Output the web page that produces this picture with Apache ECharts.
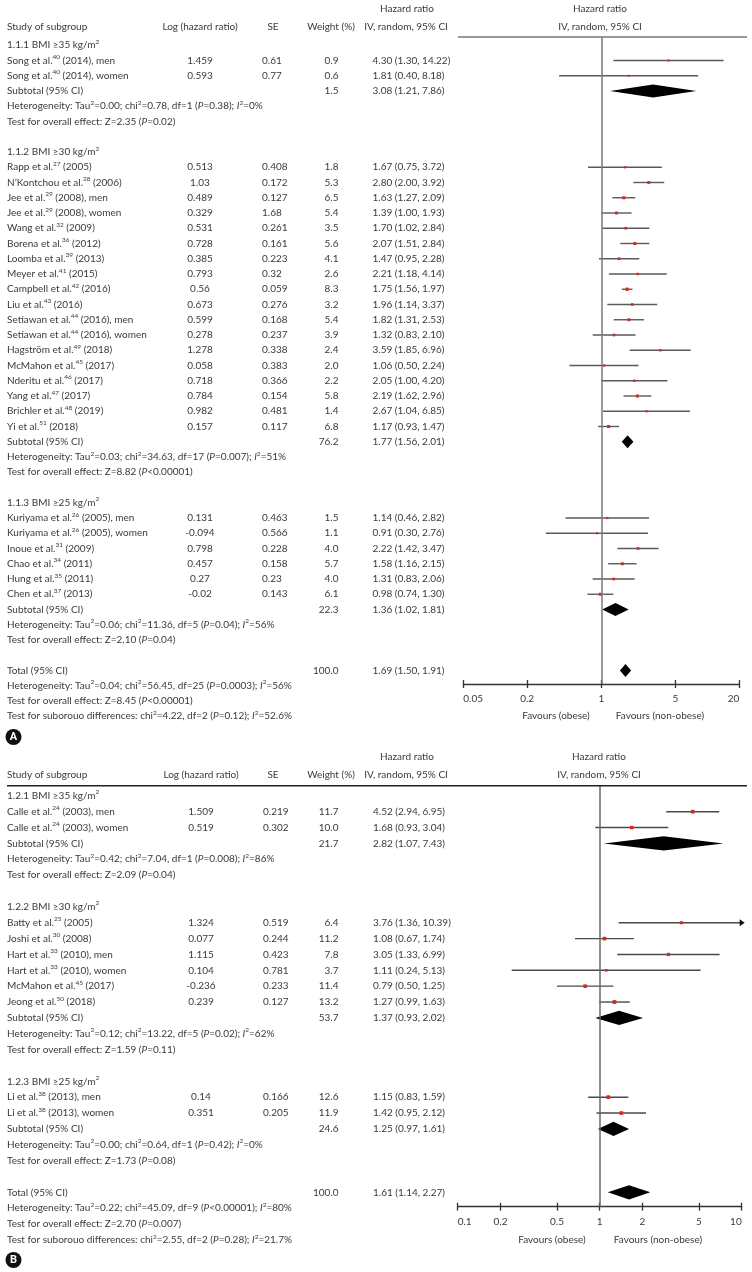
<!DOCTYPE html>
<html><head><meta charset="utf-8">
<script src="https://cdn.jsdelivr.net/npm/echarts@6/dist/echarts.min.js"></script>
<style>html,body{margin:0;padding:0;background:#fff}#c{width:752px;height:1272px}</style>
</head><body><div id="c"></div><script>
// ================= PANEL A DATA =================
const groupsA = ['1.1.1 BMI ≥35 kg/m', '1.1.2 BMI ≥30 kg/m', '1.1.3 BMI ≥25 kg/m'];
const groupSizesA = [2, 18, 6];
const studyA = ['Song et al.', 'Song et al.', 'Rapp et al.', 'N’Kontchou et al.', 'Jee et al.', 'Jee et al.',
  'Wang et al.', 'Borena et al.', 'Loomba et al.', 'Meyer et al.', 'Campbell et al.', 'Liu et al.',
  'Setiawan et al.', 'Setiawan et al.', 'Hagström et al.', 'McMahon et al.', 'Nderitu et al.', 'Yang et al.',
  'Brichler et al.', 'Yi et al.', 'Kuriyama et al.', 'Kuriyama et al.', 'Inoue et al.', 'Chao et al.',
  'Hung et al.', 'Chen et al.'];
const refA = [40, 40, 27, 28, 29, 29, 32, 36, 39, 41, 42, 43, 44, 44, 49, 45, 46, 47, 48, 51, 26, 26, 31, 34, 35, 37];
const detailA = ['(2014), men', '(2014), women', '(2005)', '(2006)', '(2008), men', '(2008), women',
  '(2009)', '(2012)', '(2013)', '(2015)', '(2016)', '(2016)', '(2016), men', '(2016), women', '(2018)',
  '(2017)', '(2017)', '(2017)', '(2019)', '(2018)', '(2005), men', '(2005), women', '(2009)', '(2011)',
  '(2011)', '(2013)'];
const logHrA = [1.459, 0.593, 0.513, 1.03, 0.489, 0.329, 0.531, 0.728, 0.385, 0.793, 0.56, 0.673, 0.599, 0.278,
  1.278, 0.058, 0.718, 0.784, 0.982, 0.157, 0.131, -0.094, 0.798, 0.457, 0.27, -0.02];
const seA = [0.61, 0.77, 0.408, 0.172, 0.127, 1.68, 0.261, 0.161, 0.223, 0.32, 0.059, 0.276, 0.168, 0.237,
  0.338, 0.383, 0.366, 0.154, 0.481, 0.117, 0.463, 0.566, 0.228, 0.158, 0.23, 0.143];
const weightA = [0.9, 0.6, 1.8, 5.3, 6.5, 5.4, 3.5, 5.6, 4.1, 2.6, 8.3, 3.2, 5.4, 3.9, 2.4, 2.0, 2.2, 5.8, 1.4, 6.8,
  1.5, 1.1, 4.0, 5.7, 4.0, 6.1];
const hrA = [4.30, 1.81, 1.67, 2.80, 1.63, 1.39, 1.70, 2.07, 1.47, 2.21, 1.75, 1.96, 1.82, 1.32, 3.59, 1.06, 2.05,
  2.19, 2.67, 1.17, 1.14, 0.91, 2.22, 1.58, 1.31, 0.98];
const loA = [1.30, 0.40, 0.75, 2.00, 1.27, 1.00, 1.02, 1.51, 0.95, 1.18, 1.56, 1.14, 1.31, 0.83, 1.85, 0.50, 1.00,
  1.62, 1.04, 0.93, 0.46, 0.30, 1.42, 1.16, 0.83, 0.74];
const hiA = [14.22, 8.18, 3.72, 3.92, 2.09, 1.93, 2.84, 2.84, 2.28, 4.14, 1.97, 3.37, 2.53, 2.10, 6.96, 2.24, 4.20,
  2.96, 6.85, 1.47, 2.82, 2.76, 3.47, 2.15, 2.06, 1.30];
const subWeightA = [1.5, 76.2, 22.3];
const subHrA = [3.08, 1.77, 1.36];
const subLoA = [1.21, 1.56, 1.02];
const subHiA = [7.86, 2.01, 1.81];
const tauA = ['0.00', '0.03', '0.06'];
const chiA = ['0.78', '34.63', '11.36'];
const dfA = [1, 17, 5];
const pHetA = ['=0.38', '=0.007', '=0.04'];
const i2A = ['0%', '51%', '56%'];
const zA = ['2.35', '8.82', '2.10'];
const pZA = ['=0.02', '<0.00001', '=0.04'];
const totalA = [100.0, 1.69, 1.50, 1.91];            // weight, HR, lower, upper
const totalHetA = ['0.04', '56.45', 25, '=0.0003', '56%'];
const totalZA = ['8.45', '<0.00001'];
const diffA = ['4.22', 2, '=0.12', '52.6%'];
const ticksA = [0.05, 0.2, 1, 5, 20];

// ================= PANEL B DATA =================
const groupsB = ['1.2.1 BMI ≥35 kg/m', '1.2.2 BMI ≥30 kg/m', '1.2.3 BMI ≥25 kg/m'];
const groupSizesB = [2, 6, 2];
const studyB = ['Calle et al.', 'Calle et al.', 'Batty et al.', 'Joshi et al.', 'Hart et al.', 'Hart et al.',
  'McMahon et al.', 'Jeong et al.', 'Li et al.', 'Li et al.'];
const refB = [24, 24, 25, 30, 33, 33, 45, 50, 38, 38];
const detailB = ['(2003), men', '(2003), women', '(2005)', '(2008)', '(2010), men', '(2010), women', '(2017)',
  '(2018)', '(2013), men', '(2013), women'];
const logHrB = [1.509, 0.519, 1.324, 0.077, 1.115, 0.104, -0.236, 0.239, 0.14, 0.351];
const seB = [0.219, 0.302, 0.519, 0.244, 0.423, 0.781, 0.233, 0.127, 0.166, 0.205];
const weightB = [11.7, 10.0, 6.4, 11.2, 7.8, 3.7, 11.4, 13.2, 12.6, 11.9];
const hrB = [4.52, 1.68, 3.76, 1.08, 3.05, 1.11, 0.79, 1.27, 1.15, 1.42];
const loB = [2.94, 0.93, 1.36, 0.67, 1.33, 0.24, 0.50, 0.99, 0.83, 0.95];
const hiB = [6.95, 3.04, 10.39, 1.74, 6.99, 5.13, 1.25, 1.63, 1.59, 2.12];
const subWeightB = [21.7, 53.7, 24.6];
const subHrB = [2.82, 1.37, 1.25];
const subLoB = [1.07, 0.93, 0.97];
const subHiB = [7.43, 2.02, 1.61];
const tauB = ['0.42', '0.12', '0.00'];
const chiB = ['7.04', '13.22', '0.64'];
const dfB = [1, 5, 1];
const pHetB = ['=0.008', '=0.02', '=0.42'];
const i2B = ['86%', '62%', '0%'];
const zB = ['2.09', '1.59', '1.73'];
const pZB = ['=0.04', '=0.11', '=0.08'];
const totalB = [100.0, 1.61, 1.14, 2.27];
const totalHetB = ['0.22', '45.09', 9, '<0.00001', '80%'];
const totalZB = ['2.70', '=0.007'];
const diffB = ['2.55', 2, '=0.28', '21.7%'];
const ticksB = [0.1, 0.2, 0.5, 1, 2, 5, 10];

// ================= LAYOUT / STYLE =================
const FONT = 'Lato, "Open Sans", sans-serif';
const TXT = '#3a3a3a';
const FS = 10;
const L = v => Math.log10(v);
const PANELS = [
  { grid: {left: 463.3, top: 37, width: 276, height: 647}, row0: 60.5, step: 15.25,
    cols: {name: 7, log: 200, se: 262, w: 338.5, ci: 372.5},
    head1: 9, head2: 27, headLine: {x1: 458, x2: 747, y: 37, color: '#777', w: 1.6},
    favY: 716, favL: 556, favR: 660, badge: {x: 13.5, y: 737, t: 'A'}, hx: 600,
    lineColor: '#5a5a5a', vColor: '#7a7a7a', dHalf: 6.5 },
  { grid: {left: 457.7, top: 785.7, width: 284, height: 421}, row0: 811.7, step: 15.86,
    cols: {name: 7, log: 201, se: 263, w: 338.5, ci: 373},
    head1: 757, head2: 775, headLine: {x1: 7, x2: 747, y: 785.7, color: '#222', w: 1.4},
    favY: 1240, favL: 552, favR: 658, badge: {x: 13.5, y: 1260, t: 'B'}, hx: 599,
    lineColor: '#4a4a4a', vColor: '#6a6a6a', dHalf: 7.2 }
];

function layoutRows(sizes) {
  const rows = []; let r = -1, k = 0;
  sizes.forEach((n, g) => {
    rows.push({r: r++, kind: 'group', g});
    for (let j = 0; j < n; j++) rows.push({r: r++, kind: 'study', i: k++});
    rows.push({r: r++, kind: 'sub', g});
    rows.push({r: r++, kind: 'het', g});
    rows.push({r: r++, kind: 'z', g});
    r++;
  });
  rows.push({r: r++, kind: 'total'});
  rows.push({r: r++, kind: 'thet'});
  rows.push({r: r++, kind: 'tz'});
  rows.push({r: r++, kind: 'diff'});
  return rows;
}

const dataSets = [
  {groups: groupsA, sizes: groupSizesA, study: studyA, ref: refA, detail: detailA, logHr: logHrA, se: seA,
   weight: weightA, hr: hrA, lo: loA, hi: hiA, subW: subWeightA, subHr: subHrA, subLo: subLoA, subHi: subHiA,
   tau: tauA, chi: chiA, df: dfA, pHet: pHetA, i2: i2A, z: zA, pZ: pZA, total: totalA, tHet: totalHetA,
   tZ: totalZA, diff: diffA, ticks: ticksA},
  {groups: groupsB, sizes: groupSizesB, study: studyB, ref: refB, detail: detailB, logHr: logHrB, se: seB,
   weight: weightB, hr: hrB, lo: loB, hi: hiB, subW: subWeightB, subHr: subHrB, subLo: subLoB, subHi: subHiB,
   tau: tauB, chi: chiB, df: dfB, pHet: pHetB, i2: i2B, z: zB, pZ: pZB, total: totalB, tHet: totalHetB,
   tZ: totalZB, diff: diffB, ticks: ticksB}
];
dataSets.forEach(d => { d.rows = layoutRows(d.sizes); });

const ciStr = (h, l, u) => `${h.toFixed(2)} (${l.toFixed(2)}, ${u.toFixed(2)})`;
const hetStr = (tau, chi, df, p, i2) =>
  `Heterogeneity: Tau{s|2}=${tau}; chi{s|2}=${chi}, df=${df} ({i|P}${p}); {i|I}{s|2}=${i2}`;
const zStr = (z, p) => `Test for overall effect: Z=${z} ({i|P}${p})`;
const diffStr = (chi, df, p, i2) =>
  `Test for suborouo differences: chi{s|2}=${chi}, df=${df} ({i|P}${p}); {i|I}{s|2}=${i2}`;

const RICH = {
  s: {fontFamily: FONT, fontSize: 6.5, fill: TXT, verticalAlign: 'top', lineHeight: 9},
  i: {fontFamily: FONT, fontSize: FS, fill: TXT, fontStyle: 'italic', lineHeight: 14}
};
function txt(text, x, y, align, extra) {
  return {type: 'text', x, y, silent: true, z: 20,
    style: Object.assign({text: String(text), textAlign: align || 'left', textVerticalAlign: 'middle',
      verticalAlign: 'middle', fontFamily: FONT, fontSize: FS, fill: TXT, lineHeight: 14, rich: RICH}, extra || {})};
}

function fmtTick(ticks, v) {
  const t = ticks.find(t => Math.abs(L(t) - v) < 1e-9);
  return t === undefined ? '' : String(t);
}
function mainAxis(gi, ticks) {
  const cv = ticks.map(L);
  return {type: 'value', gridIndex: gi, position: 'bottom', min: cv[0], max: cv[cv.length - 1],
    splitLine: {show: false},
    axisLine: {show: true, onZero: false, lineStyle: {color: '#333', width: 1.3}},
    axisTick: {show: true, customValues: cv, length: 4, lineStyle: {color: '#333', width: 1.3}},
    axisLabel: {show: true, customValues: cv, formatter: v => fmtTick(ticks, v), margin: 10,
      color: TXT, fontFamily: FONT, fontSize: FS, alignMinLabel: 'left', alignMaxLabel: 'right',
      showMinLabel: true, showMaxLabel: true}};
}
function innerAxis(gi, ticks) {
  const cv = ticks.map(L);
  return {type: 'value', gridIndex: gi, position: 'bottom', min: cv[0], max: cv[cv.length - 1],
    splitLine: {show: false},
    axisLine: {show: false, onZero: false},
    axisTick: {show: true, inside: true, customValues: cv, length: 4, lineStyle: {color: '#333', width: 1.3}},
    axisLabel: {show: false}};
}

function ciRenderFactory(P) {
  return function (params, api) {
    const lo = api.value(0), hi = api.value(1), est = api.value(2), r = api.value(3), w = api.value(4);
    const p1 = api.coord([lo, r]), p2 = api.coord([hi, r]), pe = api.coord([est, r]);
    const cs = params.coordSys;
    const right = cs.x + cs.width;
    let x2 = p2[0], clipped = false;
    if (x2 > right) { x2 = right; clipped = true; }
    const y = p1[1];
    const ch = [{type: 'line', shape: {x1: p1[0], y1: y, x2: x2, y2: y},
      style: {stroke: P.lineColor, lineWidth: 1.4}}];
    if (clipped) ch.push({type: 'polygon', shape: {points: [[right - 2, y - 3.5], [right + 3, y], [right - 2, y + 3.5]]},
      style: {fill: '#111'}});
    const s = 1.4 + 0.65 * Math.sqrt(w);
    ch.push({type: 'rect', shape: {x: pe[0] - s / 2, y: y - s / 2, width: s, height: s}, style: {fill: '#d8281c'}});
    return {type: 'group', children: ch};
  };
}
function diamondRenderFactory(P) {
  return function (params, api) {
    const lo = api.value(0), hi = api.value(1), est = api.value(2), r = api.value(3);
    const pl = api.coord([lo, r]), ph = api.coord([hi, r]), pe = api.coord([est, r]);
    const y = pl[1], h = P.dHalf;
    return {type: 'polygon', shape: {points: [[pl[0], y], [pe[0], y - h], [ph[0], y], [pe[0], y + h]]},
      style: {fill: '#000'}};
  };
}

const grids = [], xAxes = [], yAxes = [], series = [];
dataSets.forEach((d, gi) => {
  const P = PANELS[gi];
  grids.push(Object.assign({}, P.grid));
  xAxes.push(mainAxis(gi, d.ticks), innerAxis(gi, d.ticks));
  yAxes.push({type: 'value', gridIndex: gi, inverse: true, show: false,
    min: (P.grid.top - P.row0) / P.step, max: (P.grid.top + P.grid.height - P.row0) / P.step});
  const ciItems = [], dItems = [];
  d.rows.forEach(row => {
    if (row.kind === 'study') {
      const i = row.i;
      ciItems.push([L(d.lo[i]), L(d.hi[i]), L(d.hr[i]), row.r, d.weight[i]]);
    } else if (row.kind === 'sub') {
      const g = row.g;
      dItems.push([L(d.subLo[g]), L(d.subHi[g]), L(d.subHr[g]), row.r]);
    } else if (row.kind === 'total') {
      dItems.push([L(d.total[2]), L(d.total[3]), L(d.total[1]), row.r]);
    }
  });
  series.push({type: 'custom', name: 'ci' + gi, xAxisIndex: gi * 2, yAxisIndex: gi, clip: false, z: 3,
    data: ciItems, encode: {x: [0, 1, 2], y: 3}, renderItem: ciRenderFactory(P),
    markLine: {silent: true, symbol: ['none', 'none'], label: {show: false}, animation: false,
      lineStyle: {color: P.vColor, width: 1.5, type: 'solid'}, data: [{xAxis: 0}]}});
  series.push({type: 'custom', name: 'dia' + gi, xAxisIndex: gi * 2, yAxisIndex: gi, clip: false, z: 4,
    data: dItems, encode: {x: [0, 1, 2], y: 3}, renderItem: diamondRenderFactory(P)});
});

const chart = echarts.init(document.getElementById('c'), null, {renderer: 'canvas', width: 752, height: 1272});
chart.setOption({animation: false, backgroundColor: '#fff', grid: grids, xAxis: xAxes, yAxis: yAxes, series: series});

// ---------- table text ----------
const gfx = [];
dataSets.forEach((d, gi) => {
  const P = PANELS[gi], C = P.cols;
  const yOf = r => chart.convertToPixel({yAxisIndex: gi}, r);
  // headers
  gfx.push(txt('Hazard ratio', 407, P.head1, 'center'));
  gfx.push(txt('Study of subgroup', C.name, P.head2));
  gfx.push(txt('Log (hazard ratio)', C.log, P.head2, 'center'));
  gfx.push(txt('SE', 273, P.head2, 'center'));
  gfx.push(txt('Weight (%)', 331, P.head2, 'center'));
  gfx.push(txt('IV, random, 95% CI', 406, P.head2, 'center'));
  gfx.push(txt('Hazard ratio', P.hx, P.head1, 'center'));
  gfx.push(txt('IV, random, 95% CI', P.hx, P.head2, 'center'));
  const hl = P.headLine;
  gfx.push({type: 'line', silent: true, z: 20, shape: {x1: hl.x1, y1: hl.y, x2: hl.x2, y2: hl.y},
    style: {stroke: hl.color, lineWidth: hl.w}});
  d.rows.forEach(row => {
    const y = yOf(row.r);
    switch (row.kind) {
      case 'group': gfx.push(txt(d.groups[row.g] + '{s|2}', C.name, y)); break;
      case 'study': {
        const i = row.i;
        gfx.push(txt(`${d.study[i]}{s|${d.ref[i]}} ${d.detail[i]}`, C.name, y));
        gfx.push(txt(String(d.logHr[i]), C.log, y, 'center'));
        gfx.push(txt(String(d.se[i]), C.se, y));
        gfx.push(txt(d.weight[i].toFixed(1), C.w, y, 'right'));
        gfx.push(txt(ciStr(d.hr[i], d.lo[i], d.hi[i]), C.ci, y));
        break;
      }
      case 'sub': {
        const g = row.g;
        gfx.push(txt('Subtotal (95% CI)', C.name, y));
        gfx.push(txt(d.subW[g].toFixed(1), C.w, y, 'right'));
        gfx.push(txt(ciStr(d.subHr[g], d.subLo[g], d.subHi[g]), C.ci, y));
        break;
      }
      case 'het': { const g = row.g;
        gfx.push(txt(hetStr(d.tau[g], d.chi[g], d.df[g], d.pHet[g], d.i2[g]), C.name, y)); break; }
      case 'z': gfx.push(txt(zStr(d.z[row.g], d.pZ[row.g]), C.name, y)); break;
      case 'total':
        gfx.push(txt('Total (95% CI)', C.name, y));
        gfx.push(txt(d.total[0].toFixed(1), C.w, y, 'right'));
        gfx.push(txt(ciStr(d.total[1], d.total[2], d.total[3]), C.ci, y));
        break;
      case 'thet': gfx.push(txt(hetStr(...d.tHet), C.name, y)); break;
      case 'tz': gfx.push(txt(zStr(...d.tZ), C.name, y)); break;
      case 'diff': gfx.push(txt(diffStr(...d.diff), C.name, y)); break;
    }
  });
  gfx.push(txt('Favours (obese)', P.favL, P.favY, 'center'));
  gfx.push(txt('Favours (non-obese)', P.favR, P.favY, 'center'));
  const b = P.badge;
  gfx.push({type: 'circle', silent: true, z: 20, shape: {cx: b.x, cy: b.y, r: 8}, style: {fill: '#111'}});
  gfx.push(txt(b.t, b.x, b.y + 0.5, 'center', {fill: '#fff', fontWeight: 'bold', fontSize: 11, fontFamily: 'Roboto, sans-serif'}));
});
chart.setOption({graphic: {elements: gfx}});
</script></body></html>
